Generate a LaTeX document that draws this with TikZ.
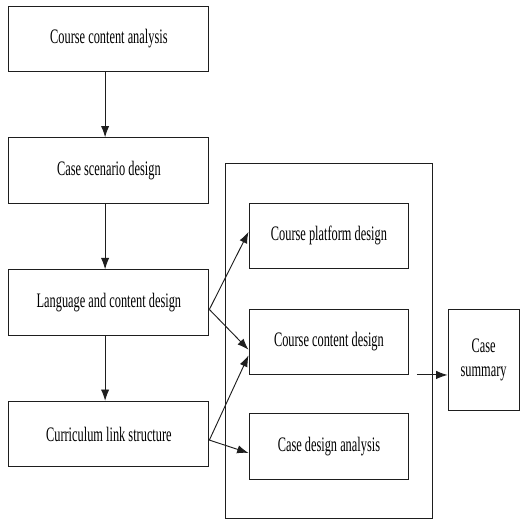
\documentclass[tikz,border=0pt]{standalone}
\usepackage{fontspec}
\setmainfont{Liberation Serif}[FakeStretch=0.6]
\usepackage{tikz}
\usetikzlibrary{arrows.meta, positioning, calc}
\definecolor{casegray}{RGB}{30,30,30}
\tikzset{every node/.append style={align=center}}
\tikzset{
  blk/.style={rectangle, draw=casegray, line width=0.7pt,
    minimum width=52.9mm, minimum height=17.3mm, inner sep=0pt,
    font=\fontsize{15.5}{18}\selectfont, text centered},
  inblk/.style={rectangle, draw=casegray, line width=0.7pt,
    minimum width=42.3mm, minimum height=17.3mm, inner sep=0pt,
    font=\fontsize{15.5}{18}\selectfont, text centered},
  frm/.style={rectangle, draw=casegray, line width=0.7pt,
    minimum width=54.8mm, minimum height=93.7mm, inner sep=0pt},
  sumblk/.style={rectangle, draw=casegray, line width=0.7pt,
    minimum width=18.8mm, minimum height=26.7mm, inner sep=0pt,
    font=\fontsize{15.5}{18}\selectfont, text centered},
  arrow/.style={-{Latex[length=3mm, width=2.2mm]}, line width=0.7pt, casegray}
}

\begin{document}
\begin{tikzpicture}
  \useasboundingbox (0,0) rectangle (137.6mm,-137.8mm);
  % left column
  \node[blk] (b1) at (28.8mm,-10.3mm) {Course content analysis};
  \node[blk] (b2) at (28.8mm,-45.1mm) {Case scenario design};
  \node[blk] (b3) at (28.8mm,-80.0mm) {Language and content design};
  \node[blk] (b4) at (28.8mm,-114.8mm) {Curriculum link structure};
  % frame with the three design boxes
  \node[frm] (frame) at (86.9mm,-90.2mm) {};
  \node[inblk] (c1) at (87.0mm,-62.4mm) {Course platform design};
  \node[inblk] (c2) at (87.0mm,-90.4mm) {Course content design};
  \node[inblk] (c3) at (87.0mm,-118.1mm) {Case design analysis};
  \node[sumblk] (sum) at (127.9mm,-95.1mm) {Case\\summary};
  \coordinate (cout) at ([xshift=2mm]c2.south east);
  % connectors
  \draw[arrow] ([xshift=-1mm]b1.south) -- ([xshift=-1mm]b2.north);
  \draw[arrow] ([xshift=-1mm]b2.south) -- ([xshift=-1mm]b3.north);
  \draw[arrow] ([xshift=-1mm]b3.south) -- ([xshift=-1mm]b4.north);
  \draw[arrow] ([yshift=-1.85mm]b3.east) -- ([yshift=1.06mm]c1.west);
  \draw[arrow] ([yshift=-1.85mm]b3.east) -- ([yshift=-2.1mm]c2.west);
  \draw[arrow] ([yshift=-1.6mm]b4.east) -- ([yshift=-3.6mm]c2.west);
  \draw[arrow] ([yshift=-1.6mm]b4.east) -- ([yshift=-1.7mm]c3.west);
  \draw[arrow] (cout) -- (cout -| sum.west);
\end{tikzpicture}
\end{document}
